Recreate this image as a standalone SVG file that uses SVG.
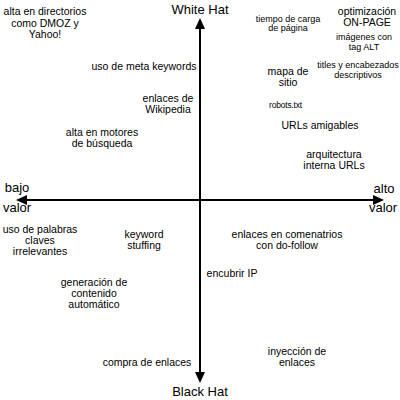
<svg xmlns="http://www.w3.org/2000/svg" width="400" height="400" viewBox="0 0 400 400">
<style>
text{font-family:"Liberation Sans",Arial,sans-serif;fill:#000;text-anchor:middle}
.m{font-size:10.5px}
.s{font-size:9px}
.ax{font-size:13px}
.axis{stroke:#000;stroke-width:2;fill:none}
</style>
<defs>
<marker id="ah" viewBox="0 0 11 10" refX="0" refY="5" markerWidth="11" markerHeight="10" markerUnits="userSpaceOnUse" orient="auto">
<path d="M0,0 L11,5 L0,10 Z" fill="#000"/>
</marker>
</defs>
<rect width="400" height="400" fill="#fff"/>
<g id="connectors">
<line class="axis" x1="200" y1="200" x2="200" y2="29" marker-end="url(#ah)"/>
<line class="axis" x1="200" y1="200" x2="200" y2="372" marker-end="url(#ah)"/>
<line class="axis" x1="200" y1="200" x2="27" y2="200" marker-end="url(#ah)"/>
<line class="axis" x1="200" y1="200" x2="373" y2="200" marker-end="url(#ah)"/>
</g>
<g id="white-hat"><text class="ax" x="200" y="14">White Hat</text></g>
<g id="black-hat"><text class="ax" x="200" y="396">Black Hat</text></g>
<g id="bajo-valor"><text class="ax" x="17" y="192">bajo</text><text class="ax" x="17" y="212">valor</text></g>
<g id="alto-valor"><text class="ax" x="384" y="193">alto</text><text class="ax" x="383" y="212">valor</text></g>
<g id="directorios"><text class="m" x="45" y="15">alta en directorios</text><text class="m" x="45" y="26.5">como DMOZ y</text><text class="m" x="45" y="38">Yahoo!</text></g>
<g id="meta-keywords"><text class="m" x="144" y="70">uso de meta keywords</text></g>
<g id="wikipedia"><text class="m" x="168" y="102">enlaces de</text><text class="m" x="168" y="113">Wikipedia</text></g>
<g id="motores"><text class="m" x="102" y="136">alta en motores</text><text class="m" x="102" y="147">de búsqueda</text></g>
<g id="tiempo-carga"><text class="s" x="288" y="21.5">tiempo de carga</text><text class="s" x="288" y="31">de página</text></g>
<g id="on-page"><text class="m" x="367" y="15">optimización</text><text class="m" x="367" y="26">ON-PAGE</text></g>
<g id="imagenes"><text class="s" x="364" y="40">imágenes con</text><text class="s" x="364" y="49.5">tag ALT</text></g>
<g id="titles"><text class="s" x="358" y="67.5">titles y encabezados</text><text class="s" x="358" y="77.5">descriptivos</text></g>
<g id="mapa-sitio"><text class="m" x="288" y="75">mapa de</text><text class="m" x="288" y="86">sitio</text></g>
<g id="robots"><text class="s" x="285.5" y="107.5" style="font-size:8.5px;letter-spacing:-0.2px">robots.txt</text></g>
<g id="urls"><text class="m" x="320" y="128.5">URLs amigables</text></g>
<g id="arquitectura"><text class="m" x="334" y="158">arquitectura</text><text class="m" x="334" y="169">interna URLs</text></g>
<g id="palabras"><text class="m" x="40" y="233">uso de palabras</text><text class="m" x="40" y="244">claves</text><text class="m" x="40" y="255">irrelevantes</text></g>
<g id="stuffing"><text class="m" x="144" y="238">keyword</text><text class="m" x="144" y="249">stuffing</text></g>
<g id="generacion"><text class="m" x="94" y="285.5">generación de</text><text class="m" x="94" y="296.5">contenido</text><text class="m" x="94" y="307.5">automático</text></g>
<g id="compra"><text class="m" x="147" y="365.5">compra de enlaces</text></g>
<g id="comentarios"><text class="m" x="287" y="238">enlaces en comenatrios</text><text class="m" x="287" y="249">con do-follow</text></g>
<g id="encubrir"><text class="m" x="232" y="276.5">encubrir IP</text></g>
<g id="inyeccion"><text class="m" x="297" y="354.5">inyección de</text><text class="m" x="297" y="365.5">enlaces</text></g>
</svg>
